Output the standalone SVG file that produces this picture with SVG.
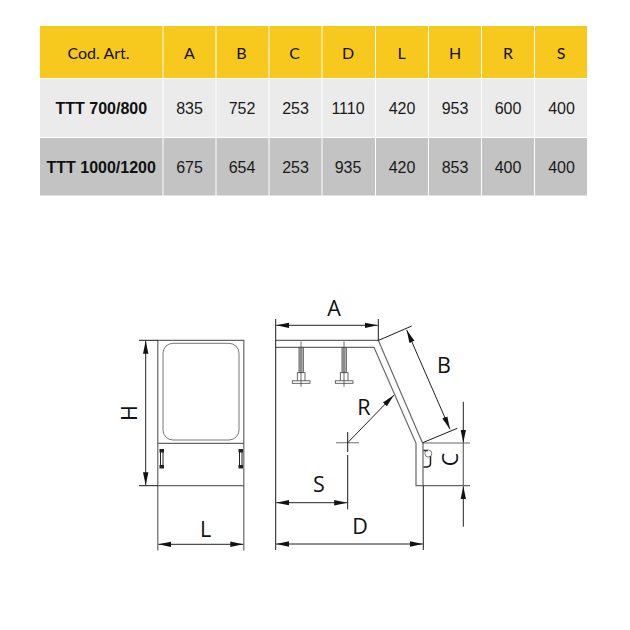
<svg xmlns="http://www.w3.org/2000/svg" width="630" height="630" viewBox="0 0 630 630">
<style>
.y{fill:#f7c91f}.l{fill:#ebebeb}.g{fill:#c3c3c3}
.h{font:16px Lato,"Open Sans",sans-serif;fill:#111;text-anchor:middle}
.n{font:16px "Liberation Sans",Arial,sans-serif;fill:#1a1a1a;text-anchor:middle}
.b{font:bold 16px "Liberation Sans",Arial,sans-serif;fill:#111;text-anchor:middle}
.d{font:21.5px "Open Sans","Noto Sans",sans-serif;fill:#111;text-anchor:middle}
.s{fill:none;stroke:#1a1a1a;stroke-width:1}
.m{fill:none;stroke:#666;stroke-width:1.2}
.t{fill:none;stroke:#666;stroke-width:.9}
.a{fill:none;stroke:#222;stroke-width:1;marker-start:url(#ah);marker-end:url(#ah)}
.e{fill:none;stroke:#222;stroke-width:1;marker-end:url(#ah)}
</style>
<defs>
<marker id="ah" markerUnits="userSpaceOnUse" markerWidth="14" markerHeight="8" refX="13" refY="3" orient="auto-start-reverse"><path d="M0 0.3L13 3L0 5.7z" fill="#111"/></marker>
</defs>
<g id="table">
<rect class="y" x="40" y="26" width="122.500" height="52"/><rect class="y" x="163.500" y="26" width="52" height="52"/><rect class="y" x="216.500" y="26" width="52" height="52"/><rect class="y" x="269.500" y="26" width="52" height="52"/><rect class="y" x="322.500" y="26" width="52.500" height="52"/><rect class="y" x="376" y="26" width="52" height="52"/><rect class="y" x="429" y="26" width="52" height="52"/><rect class="y" x="482" y="26" width="52" height="52"/><rect class="y" x="535" y="26" width="52" height="52"/>
<rect class="l" x="40" y="79" width="122.500" height="58"/><rect class="l" x="163.500" y="79" width="52" height="58"/><rect class="l" x="216.500" y="79" width="52" height="58"/><rect class="l" x="269.500" y="79" width="52" height="58"/><rect class="l" x="322.500" y="79" width="52.500" height="58"/><rect class="l" x="376" y="79" width="52" height="58"/><rect class="l" x="429" y="79" width="52" height="58"/><rect class="l" x="482" y="79" width="52" height="58"/><rect class="l" x="535" y="79" width="52" height="58"/>
<rect class="g" x="40" y="138" width="122.500" height="57.500"/><rect class="g" x="163.500" y="138" width="52" height="57.500"/><rect class="g" x="216.500" y="138" width="52" height="57.500"/><rect class="g" x="269.500" y="138" width="52" height="57.500"/><rect class="g" x="322.500" y="138" width="52.500" height="57.500"/><rect class="g" x="376" y="138" width="52" height="57.500"/><rect class="g" x="429" y="138" width="52" height="57.500"/><rect class="g" x="482" y="138" width="52" height="57.500"/><rect class="g" x="535" y="138" width="52" height="57.500"/>
<text class="h" x="98.500" y="59">Cod. Art.</text><text class="h" x="189.500" y="59">A</text><text class="h" x="241.500" y="59">B</text><text class="h" x="294.500" y="59">C</text><text class="h" x="348" y="59">D</text><text class="h" x="401.500" y="59">L</text><text class="h" x="455" y="59">H</text><text class="h" x="508" y="59">R</text><text class="h" x="561" y="59">S</text>
<text class="b" x="101.300" y="114.300">TTT 700/800</text><text class="n" x="189.500" y="114">835</text><text class="n" x="242" y="114">752</text><text class="n" x="295.500" y="114">253</text><text class="n" x="348" y="114">1110</text><text class="n" x="402" y="114">420</text><text class="n" x="455" y="114">953</text><text class="n" x="508" y="114">600</text><text class="n" x="561.500" y="114">400</text>
<text class="b" x="101.200" y="173.300">TTT 1000/1200</text><text class="n" x="189.500" y="173">675</text><text class="n" x="242" y="173">654</text><text class="n" x="295.500" y="173">253</text><text class="n" x="348" y="173">935</text><text class="n" x="402" y="173">420</text><text class="n" x="455" y="173">853</text><text class="n" x="508" y="173">400</text><text class="n" x="561.500" y="173">400</text>
</g>
<g id="front-view">
<path class="m" d="M157.800 340.300H243.800V550.500M157.800 340.300V550.500M157.800 443.300H243.800M157.800 485.700H243.800"/>
<rect class="t" x="163" y="343.300" width="76" height="96.700" rx="10"/>
<path d="M139 340.300H158M139 485.700H158" class="s"/>
<g fill="none" stroke="#222" stroke-width="1"><rect x="160.500" y="450" width="2.500" height="17.500" fill="#fff"/><rect x="239.500" y="450" width="2.500" height="17.500" fill="#fff"/></g>
<path d="M159.500 449h4.500v3.500h-4.500zM159.500 465h4.500v3.500h-4.500zM238.500 449h4.500v3.500h-4.500zM238.500 465h4.500v3.500h-4.500z" fill="#222"/>
</g>
<g id="side-view">
<path class="m" d="M275.700 340.300H378.300L422.500 443H470M275.700 347.300H374L416 443.300V485.700H470M423 443V485.700M463.300 443V485.700"/>
<path class="s" d="M275.700 319V550M378.300 319V340.500M378.300 340.500L411.700 326M422.700 442.700L457.300 428.300M423.300 485.700V550"/>
<g id="bolts" fill="none" stroke="#444" stroke-width=".8">
<rect x="299" y="347.500" width="4.300" height="25" fill="#bbb"/><rect x="297.300" y="372.700" width="7.700" height="9" fill="#fff"/><rect x="292.300" y="380.800" width="17.700" height="2.500" fill="#fff"/><path d="M301 341.500V386.700"/>
<rect x="342" y="347.500" width="4.300" height="25" fill="#bbb"/><rect x="340.300" y="372.700" width="7.700" height="9" fill="#fff"/><rect x="335.300" y="380.800" width="17.700" height="2.500" fill="#fff"/><path d="M344 341.500V386.700"/>
</g>
<g id="hinge" fill="none">
<path d="M423.500 450.500H428M430.500 456V464Q430.500 466.500 427 467H423.500" stroke="#222" stroke-width="1.500"/>
<circle cx="428.300" cy="453.500" r="3.500" stroke="#555" stroke-width=".8"/>
</g>
<path d="M336 442.700H359" stroke="#888" stroke-width="1.200" fill="none"/>
<path class="s" d="M347.700 432V452M347.700 455V509.300"/>
</g>
<g id="connectors">
<path class="a" d="M145.700 340.800V485.200"/>
<path class="a" d="M158.300 544.300H243.300"/>
<path class="a" d="M276.200 325.300H377.800"/>
<path class="a" d="M406.700 330L450 429.300"/>
<path class="e" d="M347.700 442.700L394 395"/>
<path class="a" d="M276.200 502.700H347.200"/>
<path class="a" d="M276.200 544H422.800"/>
<path class="e" d="M463.300 401.700V442.700"/>
<path class="e" d="M463.300 526.700V486.200"/>
</g>
<g id="labels">
<text class="d" x="334" y="315.500">A</text>
<text class="d" x="444" y="372.500">B</text>
<text class="d" x="364" y="415">R</text>
<text class="d" x="319" y="491.700">S</text>
<text class="d" x="360" y="534">D</text>
<text class="d" x="205.500" y="537">L</text>
<text class="d" transform="translate(137 413) rotate(-90)">H</text>
<text class="d" transform="translate(458 459.500) rotate(-90)">C</text>
</g>
</svg>
